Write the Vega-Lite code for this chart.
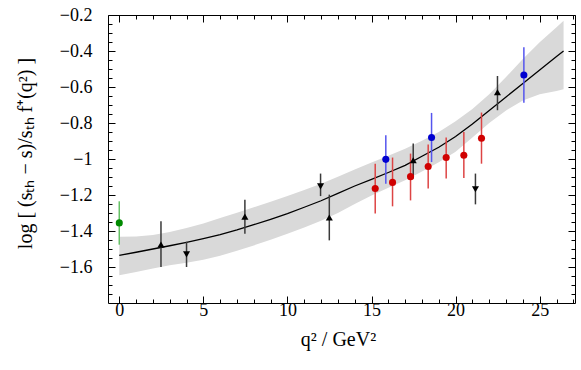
{
  "$schema": "https://vega.github.io/schema/vega-lite/v6.json",
  "width": 467,
  "height": 288,
  "autosize": "none",
  "padding": {"left": 108, "top": 15, "right": 6, "bottom": 67},
  "background": "white",
  "config": {
    "view": {"stroke": "black", "strokeWidth": 1},
    "axis": {
      "labelFont": "Liberation Serif",
      "titleFont": "Liberation Serif",
      "labelColor": "black",
      "titleColor": "black",
      "domainColor": "black",
      "tickColor": "black",
      "grid": false,
      "titleFontWeight": "normal",
      "labelFontSize": 18,
      "titleFontSize": 20
    }
  },
  "datasets": {
    "band": [
      {"x": 0, "y": -1.535, "lo": -1.646, "hi": -1.432},
      {"x": 1, "y": -1.518, "lo": -1.628, "hi": -1.430},
      {"x": 2, "y": -1.500, "lo": -1.608, "hi": -1.422},
      {"x": 3, "y": -1.482, "lo": -1.590, "hi": -1.405},
      {"x": 4, "y": -1.463, "lo": -1.576, "hi": -1.383},
      {"x": 5, "y": -1.442, "lo": -1.560, "hi": -1.358},
      {"x": 6, "y": -1.420, "lo": -1.537, "hi": -1.328},
      {"x": 7, "y": -1.394, "lo": -1.510, "hi": -1.298},
      {"x": 8, "y": -1.365, "lo": -1.480, "hi": -1.268},
      {"x": 9, "y": -1.335, "lo": -1.448, "hi": -1.237},
      {"x": 10, "y": -1.303, "lo": -1.415, "hi": -1.205},
      {"x": 11, "y": -1.268, "lo": -1.380, "hi": -1.172},
      {"x": 12, "y": -1.232, "lo": -1.343, "hi": -1.137},
      {"x": 13, "y": -1.191, "lo": -1.300, "hi": -1.098},
      {"x": 14, "y": -1.150, "lo": -1.250, "hi": -1.058},
      {"x": 15, "y": -1.113, "lo": -1.203, "hi": -1.020},
      {"x": 16, "y": -1.075, "lo": -1.160, "hi": -0.982},
      {"x": 17, "y": -1.035, "lo": -1.118, "hi": -0.943},
      {"x": 18, "y": -0.985, "lo": -1.070, "hi": -0.898},
      {"x": 19, "y": -0.935, "lo": -1.018, "hi": -0.850},
      {"x": 20, "y": -0.875, "lo": -0.960, "hi": -0.790},
      {"x": 21, "y": -0.805, "lo": -0.880, "hi": -0.722},
      {"x": 22, "y": -0.730, "lo": -0.800, "hi": -0.640},
      {"x": 23, "y": -0.655, "lo": -0.730, "hi": -0.545},
      {"x": 24, "y": -0.580, "lo": -0.675, "hi": -0.445},
      {"x": 25, "y": -0.505, "lo": -0.640, "hi": -0.352},
      {"x": 26, "y": -0.430, "lo": -0.622, "hi": -0.268},
      {"x": 26.42, "y": -0.400, "lo": -0.613, "hi": -0.232}
    ],
    "pts": [
      {"x": 0, "y": -1.355, "lo": -1.476, "hi": -1.235, "grp": "green"},
      {"x": 2.48, "y": -1.475, "lo": -1.600, "hi": -1.346, "grp": "up"},
      {"x": 4.0, "y": -1.530, "lo": -1.600, "hi": -1.460, "grp": "down"},
      {"x": 7.47, "y": -1.320, "lo": -1.415, "hi": -1.226, "grp": "up"},
      {"x": 11.97, "y": -1.152, "lo": -1.206, "hi": -1.081, "grp": "down"},
      {"x": 12.49, "y": -1.325, "lo": -1.452, "hi": -1.198, "grp": "up"},
      {"x": 15.22, "y": -1.164, "lo": -1.303, "hi": -1.026, "grp": "red"},
      {"x": 15.85, "y": -1.002, "lo": -1.137, "hi": -0.868, "grp": "blue"},
      {"x": 16.25, "y": -1.130, "lo": -1.263, "hi": -0.992, "grp": "red"},
      {"x": 17.32, "y": -1.098, "lo": -1.230, "hi": -0.970, "grp": "red"},
      {"x": 17.48, "y": -1.007, "lo": -1.109, "hi": -0.914, "grp": "up"},
      {"x": 18.37, "y": -1.042, "lo": -1.164, "hi": -0.920, "grp": "red"},
      {"x": 18.57, "y": -0.881, "lo": -1.017, "hi": -0.744, "grp": "blue"},
      {"x": 19.44, "y": -0.992, "lo": -1.109, "hi": -0.881, "grp": "red"},
      {"x": 20.49, "y": -0.979, "lo": -1.106, "hi": -0.850, "grp": "red"},
      {"x": 21.18, "y": -1.168, "lo": -1.252, "hi": -1.081, "grp": "down"},
      {"x": 21.54, "y": -0.885, "lo": -1.026, "hi": -0.742, "grp": "red"},
      {"x": 22.49, "y": -0.629, "lo": -0.729, "hi": -0.539, "grp": "up"},
      {"x": 24.06, "y": -0.533, "lo": -0.687, "hi": -0.379, "grp": "blue"}
    ]
  },
  "layer": [
    {
      "data": {"name": "band"},
      "mark": {"type": "area", "color": "#d9d9d9", "opacity": 1},
      "encoding": {
        "x": {
          "field": "x", "type": "quantitative",
          "scale": {"domain": [-0.67, 27.1], "nice": false, "zero": false},
          "axis": {"orient": "bottom", "values": [0, 5, 10, 15, 20, 25], "tickSize": -7, "labelPadding": 5, "domain": false, "format": "d", "title": "q² / GeV²", "titleX": 230, "titleY": 36, "titleBaseline": "middle", "titleAnchor": "middle"}
        },
        "y": {
          "field": "lo", "type": "quantitative",
          "scale": {"domain": [-1.8, -0.2], "nice": false, "zero": false},
          "axis": {"orient": "left", "values": [-1.6, -1.4, -1.2, -1, -0.8, -0.6, -0.4, -0.2], "tickSize": -7, "labelPadding": 23, "domain": false, "format": ".1~f", "title": "log [ (sₜₕ − s)/sₜₕ  f⁺(q²) ]", "titleX": -83, "titleY": 138, "titleAngle": -90, "titleBaseline": "middle", "titleAnchor": "middle"}
        },
        "y2": {"field": "hi"}
      }
    },
    {
      "data": {"name": "band"},
      "mark": {"type": "line", "color": "black", "strokeWidth": 1.3},
      "encoding": {
        "x": {"field": "x", "type": "quantitative", "scale": {"domain": [-0.67, 27.1], "nice": false, "zero": false},
          "axis": {"orient": "top", "values": [0, 5, 10, 15, 20, 25], "tickSize": -7, "labels": false, "domain": false, "title": null}},
        "y": {"field": "y", "type": "quantitative", "scale": {"domain": [-1.8, -0.2], "nice": false, "zero": false},
          "axis": {"orient": "right", "values": [-1.6, -1.4, -1.2, -1, -0.8, -0.6, -0.4, -0.2], "tickSize": -7, "labels": false, "domain": false, "title": null}}
      }
    },
    {
      "data": {"name": "pts"},
      "mark": {"type": "rule", "strokeWidth": 1.5},
      "encoding": {
        "x": {"field": "x", "type": "quantitative", "scale": {"domain": [-0.67, 27.1], "nice": false, "zero": false},
          "axis": {"orient": "bottom", "values": [1, 2, 3, 4, 6, 7, 8, 9, 11, 12, 13, 14, 16, 17, 18, 19, 21, 22, 23, 24, 26, 27], "tickSize": -4, "labels": false, "domain": false, "title": null}},
        "y": {"field": "lo", "type": "quantitative", "scale": {"domain": [-1.8, -0.2], "nice": false, "zero": false},
          "axis": {"orient": "left", "values": [-1.75, -1.7, -1.65, -1.55, -1.5, -1.45, -1.35, -1.3, -1.25, -1.15, -1.1, -1.05, -0.95, -0.9, -0.85, -0.75, -0.7, -0.65, -0.55, -0.5, -0.45, -0.35, -0.3, -0.25], "tickSize": -4, "labels": false, "domain": false, "title": null}},
        "y2": {"field": "hi"},
        "color": {"field": "grp", "type": "nominal", "legend": null,
          "scale": {"domain": ["green", "red", "blue", "up", "down"], "range": ["#66c266", "#dd4444", "#5555ee", "#3a3a3a", "#3a3a3a"]}}
      }
    },
    {
      "data": {"name": "pts"},
      "mark": {"type": "point", "filled": true, "opacity": 1},
      "encoding": {
        "x": {"field": "x", "type": "quantitative", "scale": {"domain": [-0.67, 27.1], "nice": false, "zero": false},
          "axis": {"orient": "top", "values": [1, 2, 3, 4, 6, 7, 8, 9, 11, 12, 13, 14, 16, 17, 18, 19, 21, 22, 23, 24, 26, 27], "tickSize": -4, "labels": false, "domain": false, "title": null}},
        "y": {"field": "y", "type": "quantitative", "scale": {"domain": [-1.8, -0.2], "nice": false, "zero": false},
          "axis": {"orient": "right", "values": [-1.75, -1.7, -1.65, -1.55, -1.5, -1.45, -1.35, -1.3, -1.25, -1.15, -1.1, -1.05, -0.95, -0.9, -0.85, -0.75, -0.7, -0.65, -0.55, -0.5, -0.45, -0.35, -0.3, -0.25], "tickSize": -4, "labels": false, "domain": false, "title": null}},
        "color": {"field": "grp", "type": "nominal", "legend": null,
          "scale": {"domain": ["green", "red", "blue", "up", "down"], "range": ["#008a00", "#d00000", "#0000d0", "black", "black"]}},
        "shape": {"field": "grp", "type": "nominal", "legend": null,
          "scale": {"domain": ["green", "red", "blue", "up", "down"], "range": ["circle", "circle", "circle", "triangle-up", "triangle-down"]}},
        "size": {"field": "grp", "type": "nominal", "legend": null,
          "scale": {"domain": ["green", "red", "blue", "up", "down"], "range": [50, 50, 50, 95, 95]}}
      }
    }
  ],
  "resolve": {"axis": {"x": "independent", "y": "independent"}, "scale": {"color": "independent"}}
}
